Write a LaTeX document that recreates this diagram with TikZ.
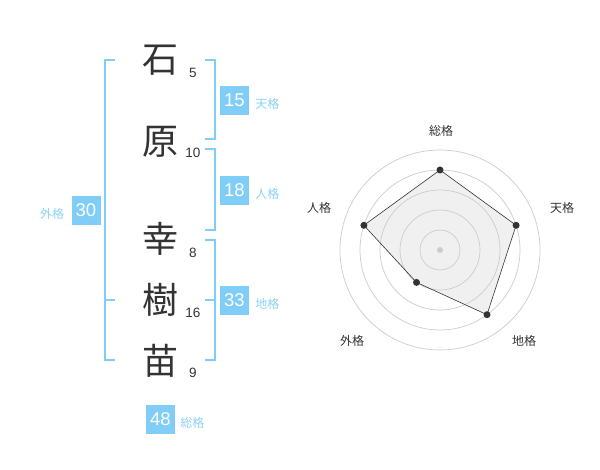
\documentclass[tikz,border=0pt]{standalone}
\usepackage{fontspec}
\setmainfont{Liberation Sans}
\newfontfamily\cjk{Noto Sans CJK JP}
\definecolor{kblue}{HTML}{80CEF8}
\definecolor{klabel}{HTML}{8CD2F5}
\definecolor{ktext}{HTML}{333333}
\definecolor{kgrid}{HTML}{CCCCCC}
\begin{document}
\begin{tikzpicture}[x=1pt,y=-1pt,
  kanji/.style={font=\cjk\fontsize{36}{36}\selectfont, text=ktext, inner sep=0pt},
  stroke/.style={font=\fontsize{13.5}{14}\selectfont, text=ktext, inner sep=0pt},
  valbox/.style={fill=kblue, text=white, font=\fontsize{18.5}{19}\selectfont, minimum width=29pt, minimum height=29pt, inner sep=0pt},
  kaku/.style={font=\cjk\fontsize{12}{12}\selectfont, text=klabel, inner sep=0pt},
  bracket/.style={draw=kblue, line width=2pt},
  axislabel/.style={font=\cjk\fontsize{12}{12}\selectfont, text=ktext, inner sep=0pt},
  grid/.style={draw=kgrid, line width=0.7pt},
  dot/.style={circle, fill=ktext, minimum size=7pt, inner sep=0pt}]
\useasboundingbox (0,0) rectangle (600,470);
\fill[white] (0,0) rectangle (600,470);
% kanji
\node[kanji] (k1) at (160,60) {石};
\node[kanji] (k2) at (160,142) {原};
\node[kanji] (k3) at (160,239) {幸};
\node[kanji] (k4) at (160,300) {樹};
\node[kanji] (k5) at (160,361) {苗};
% stroke counts
\node[stroke] (s1) at (193,73) {5};
\node[stroke] (s2) at (193,153) {10};
\node[stroke] (s3) at (193,253) {8};
\node[stroke] (s4) at (193,313) {16};
\node[stroke] (s5) at (193,373) {9};
% brackets
\draw[bracket] (115,60) -- (105,60) -- (105,360) -- (115,360);
\draw[bracket] (105,300) -- (115,300);
\draw[bracket] (205,60) -- (215,60) -- (215,139.5) -- (205,139.5);
\draw[bracket] (205,149.5) -- (215,149.5) -- (215,230) -- (205,230);
\draw[bracket] (205,240) -- (215,240) -- (215,360) -- (205,360);
\draw[bracket] (205,300) -- (215,300);
% values
\node[valbox] (v1) at (234.5,100.5) {15};
\node[kaku, anchor=west] (l1) at ([xshift=6pt,yshift=-3.5pt]v1.east) {天格};
\node[valbox] (v2) at (234.5,190.5) {18};
\node[kaku, anchor=west] (l2) at ([xshift=6pt,yshift=-3.5pt]v2.east) {人格};
\node[valbox] (v3) at (86,210.5) {30};
\node[kaku, anchor=east] (l3) at ([xshift=-7pt,yshift=-3.5pt]v3.west) {外格};
\node[valbox] (v4) at (234.5,300.5) {33};
\node[kaku, anchor=west] (l4) at ([xshift=6pt,yshift=-3.5pt]v4.east) {地格};
\node[valbox] (v5) at (160.5,419) {48};
\node[kaku, anchor=west] (l5) at ([xshift=5pt,yshift=-3.5pt]v5.east) {総格};
% radar
\coordinate (c) at (440,250);
\coordinate (p1) at (440,170);
\coordinate (p2) at (516.1,225.3);
\coordinate (p3) at (487,314.7);
\coordinate (p4) at (416.5,282.4);
\coordinate (p5) at (363.9,225.3);
\fill[black!6] (p1) -- (p2) -- (p3) -- (p4) -- (p5) -- cycle;
\foreach \r in {20,40,60,80,100} \draw[grid] (c) circle[radius=\r];
\draw[ktext, line width=0.6pt] (p1) -- (p2) -- (p3) -- (p4) -- (p5) -- cycle;
\node[circle, fill=kgrid, minimum size=6pt, inner sep=0pt] (cd) at (c) {};
\foreach \p in {p1,p2,p3,p4,p5} \node[dot] (d\p) at (\p) {};
\node[axislabel] (a1) at (441,131) {総格};
\node[axislabel] (a2) at (562,208) {天格};
\node[axislabel] (a3) at (524,341) {地格};
\node[axislabel] (a4) at (352,341) {外格};
\node[axislabel] (a5) at (319,208) {人格};
\end{tikzpicture}
\end{document}
